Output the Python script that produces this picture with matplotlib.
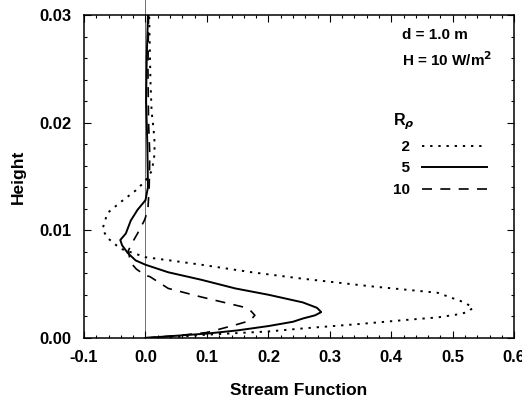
import matplotlib
matplotlib.use('Agg')
import matplotlib.pyplot as plt
from matplotlib.ticker import MultipleLocator

plt.rcParams['font.family'] = ['Liberation Sans', 'DejaVu Sans']
plt.rcParams['font.weight'] = 'bold'
plt.rcParams['mathtext.default'] = 'it'

# stream function (x) vs height (y) for density ratios R_rho = 2, 5, 10
psi_2 = [0.0, 0.05, 0.1, 0.2, 0.26, 0.35, 0.43, 0.475, 0.51, 0.524, 0.533,
         0.519, 0.475, 0.366, 0.256, 0.173, 0.091, 0.04, 0.0, -0.041,
         -0.062, -0.07, -0.062, -0.041, -0.016, 0.0, 0.01, 0.014, 0.015,
         0.013, 0.01, 0.008, 0.007, 0.006]
z_2 = [0.0, 0.0001, 0.0003, 0.0006, 0.0009, 0.0013, 0.0017, 0.0019, 0.0022,
       0.0024, 0.0028, 0.0033, 0.0042, 0.0048, 0.0055, 0.0061, 0.0068,
       0.0072, 0.0075, 0.0083, 0.0093, 0.0101, 0.0116, 0.0126, 0.0137,
       0.0146, 0.0155, 0.0167, 0.018, 0.0195, 0.021, 0.024, 0.027, 0.03]

psi_5 = [0.0, 0.05, 0.1, 0.15, 0.2, 0.24, 0.256, 0.276, 0.286, 0.279, 0.256,
         0.201, 0.146, 0.091, 0.037, 0.0, -0.016, -0.029, -0.038, -0.041,
         -0.032, -0.024, -0.013, 0.0, 0.004, 0.003, 0.001, 0.002, 0.004]
z_5 = [0.0, 0.0002, 0.0004, 0.0007, 0.0011, 0.0015, 0.0018, 0.0021, 0.0024,
       0.0028, 0.0033, 0.004, 0.0046, 0.0054, 0.0061, 0.0068, 0.0072, 0.0079,
       0.0086, 0.0091, 0.0097, 0.0109, 0.0119, 0.0128, 0.014, 0.018, 0.022,
       0.026, 0.03]

psi_10 = [0.0, 0.05, 0.1, 0.146, 0.17, 0.178, 0.17, 0.157, 0.091, 0.037,
          0.007, 0.0, -0.015, -0.021, -0.026, -0.028, -0.021, -0.013, -0.002,
          0.0, 0.004, 0.006, 0.007, 0.005, 0.004, 0.005]
z_10 = [0.0, 0.0002, 0.0005, 0.0012, 0.0016, 0.0021, 0.0026, 0.0029, 0.0038,
        0.0046, 0.0057, 0.0058, 0.0064, 0.0068, 0.0075, 0.0081, 0.0089,
        0.0097, 0.0109, 0.0112, 0.012, 0.014, 0.017, 0.02, 0.025, 0.03]

labels = ['  2', '  5', '10']

fig = plt.figure(figsize=(5.22, 3.98), dpi=100)
ax = fig.add_axes([0.161, 0.151, 0.824, 0.811])

# thin reference line at zero stream function
ax.plot([0, 0], [0, 0.0315], color='0.35', lw=0.6, clip_on=False, zorder=1)

ax.plot(psi_2, z_2, color='black', lw=1.4, ls=(0, (1.2, 3.0)), label=labels[0])
ax.plot(psi_5, z_5, color='black', lw=1.4, ls='-', label=labels[1])
ax.plot(psi_10, z_10, color='black', lw=1.2, ls=(0, (6, 5)), label=labels[2])

ax.set_xlim(-0.1, 0.6)
ax.set_ylim(0.0, 0.03)
ax.xaxis.set_major_locator(MultipleLocator(0.1))
ax.xaxis.set_minor_locator(MultipleLocator(0.02))
ax.yaxis.set_major_locator(MultipleLocator(0.01))
ax.yaxis.set_minor_locator(MultipleLocator(0.002))
ax.xaxis.set_major_formatter(matplotlib.ticker.FormatStrFormatter('%.1f'))
ax.yaxis.set_major_formatter(matplotlib.ticker.FormatStrFormatter('%.2f'))
ax.tick_params(which='both', direction='in', top=True, right=True,
               labelsize=12, width=0.8)
ax.tick_params(which='major', length=5, pad=9)
ax.tick_params(which='minor', length=2.5)
for sp in ax.spines.values():
    sp.set_linewidth(1.1)

ax.set_xlabel('Stream Function', fontsize=12.5, fontweight='bold', labelpad=13)
ax.set_ylabel('Height', fontsize=12.5, fontweight='bold', labelpad=10)

ax.text(0.74, 0.96, 'd = 1.0 m', transform=ax.transAxes, fontsize=11,
        fontweight='bold', va='top', ha='left')
ax.text(0.74, 0.89, 'H = 10 W/m$^{\\mathbf{2}}$', transform=ax.transAxes,
        fontsize=11, fontweight='bold', va='top', ha='left')

leg = ax.legend(loc='upper right', bbox_to_anchor=(0.95, 0.72),
                frameon=False, markerfirst=False, handlelength=4.2,
                fontsize=11, title='R$_{\\rho}$', title_fontsize=11.5,
                alignment='left', labelspacing=0.5, handletextpad=0.8,
                borderaxespad=0)
for t in leg.get_texts():
    t.set_fontweight('bold')
leg.get_title().set_fontweight('bold')

fig.savefig('out.png', dpi=100)
